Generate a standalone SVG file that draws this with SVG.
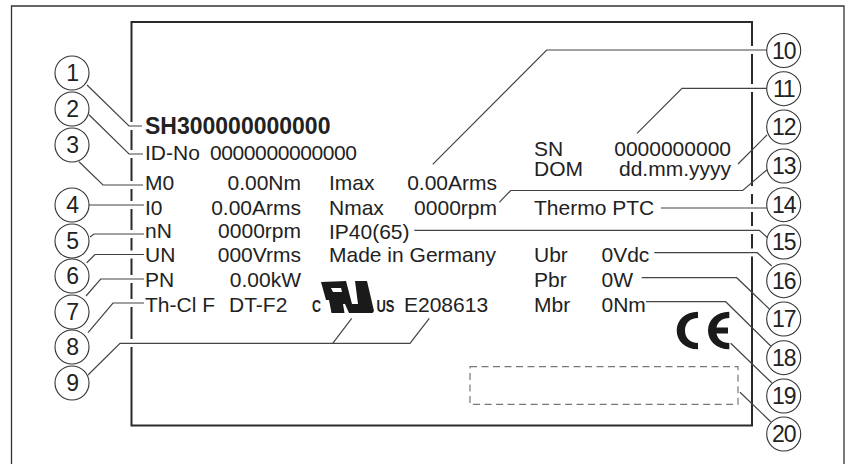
<svg xmlns="http://www.w3.org/2000/svg" width="849" height="464" viewBox="0 0 849 464">
<style>
text{font-family:"Liberation Sans",Arial,sans-serif;fill:#222}
.t{font-size:21px}
.e{text-anchor:end}
.b{font-size:23px;font-weight:bold}
.n{font-size:23px;text-anchor:middle;letter-spacing:-1.2px}
.c{fill:#fff;stroke:#333;stroke-width:1.1}
.l{fill:none;stroke:#444;stroke-width:1.2}
</style>
<rect width="849" height="464" fill="#fff"/>
<path d="M11.5 464V6H844V464" fill="none" stroke="#333" stroke-width="1.3"/>
<rect x="131.5" y="22" width="620.5" height="403.5" fill="none" stroke="#2a2a2a" stroke-width="2"/>
<path d="M131.5 122V130M131.5 150V158M131.5 181V189M131.5 201V209M131.5 230V238M131.5 250.500V258.500M131.500 275V283M131.500 299V307M131.500 339V347M752 46V54M752 84V92M752 186V194M752 204V212M752 226V234M752 248.500V256.500" stroke="#fff" stroke-width="4" fill="none"/>
<rect x="470" y="366.700" width="268" height="37.600" fill="none" stroke="#777" stroke-width="1.2" stroke-dasharray="7 4.500"/>
<g id="connectors">
<path class="l" d="M87 85L129 126H142"/>
<path class="l" d="M89 114.700L129 154H143"/>
<path class="l" d="M79 161.700L103 185H143"/>
<path class="l" d="M89 205H144"/>
<path class="l" d="M90 237L94 234H144"/>
<path class="l" d="M86.700 262.700L95 254.500H144"/>
<path class="l" d="M86 296L100.700 279H144"/>
<path class="l" d="M88 332.700L113 303H144"/>
<path class="l" d="M88 375L120 343.300H410L429.300 318.300M332.700 343.300L351.700 318.300"/>
<path class="l" d="M432.700 164.300L546.700 50H767"/>
<path class="l" d="M637 133.300L682 88.300H767"/>
<path class="l" d="M738 164L767 135"/>
<path class="l" d="M499.300 202.300L510.700 190.500H742.700L766.700 170"/>
<path class="l" d="M661 208H767"/>
<path class="l" d="M414.300 230.300H759.300L769 239"/>
<path class="l" d="M654.300 252.700H757.300L771.700 266"/>
<path class="l" d="M641.700 277.700H736.700L769.300 309"/>
<path class="l" d="M646 301.700H725.700L770.700 346"/>
<path class="l" d="M730.700 343.300L771.700 382.700"/>
<path class="l" d="M740 392.300L770.700 421.700"/>
</g>
<g id="label">
<text class="b" x="145" y="134">SH300000000000</text>
<text class="t" x="145" y="160">ID-No</text>
<text class="t" x="210" y="160" textLength="147">0000000000000</text>
<text class="t" x="145" y="190">M0</text>
<text class="t e" x="301" y="190">0.00Nm</text>
<text class="t" x="145" y="215">I0</text>
<text class="t e" x="301" y="215">0.00Arms</text>
<text class="t" x="145" y="238">nN</text>
<text class="t e" x="301" y="238">0000rpm</text>
<text class="t" x="145" y="262">UN</text>
<text class="t e" x="301" y="262">000Vrms</text>
<text class="t" x="145" y="287">PN</text>
<text class="t e" x="301" y="287">0.00kW</text>
<text class="t" x="145" y="312">Th-Cl F</text>
<text class="t" x="229" y="312">DT-F2</text>
<text class="t" x="329" y="190">Imax</text>
<text class="t e" x="497" y="190">0.00Arms</text>
<text class="t" x="329" y="215">Nmax</text>
<text class="t e" x="497" y="215">0000rpm</text>
<text class="t" x="329" y="239">IP40(65)</text>
<text class="t" x="329" y="262">Made in Germany</text>
<text class="t" x="534" y="156">SN</text>
<text class="t" x="534" y="176">DOM</text>
<text class="t e" x="731" y="156">0000000000</text>
<text class="t e" x="731" y="176">dd.mm.yyyy</text>
<text class="t" x="534" y="215">Thermo PTC</text>
<text class="t" x="534" y="262">Ubr</text>
<text class="t" x="534" y="287">Pbr</text>
<text class="t" x="534" y="312">Mbr</text>
<text class="t" x="601.500" y="262">0Vdc</text>
<text class="t" x="601.500" y="287">0W</text>
<text class="t" x="601.500" y="312">0Nm</text>
<text class="t" x="404" y="312">E208613</text>
<text x="312" y="312" font-size="17" font-weight="bold" textLength="9" lengthAdjust="spacingAndGlyphs">C</text>
<text x="376.500" y="312" font-size="17" font-weight="bold" textLength="18" lengthAdjust="spacingAndGlyphs">US</text>
</g>
<g id="ul-mark"><path fill="#1a1a1a" fill-rule="evenodd" d="M321 282L346 281L352 304L358 304L355 281L367 281L374 311L372.500 313L349 313L345 304L343 304L344.500 313L331.500 313L329 300L326 300ZM331 288L341 288L342 292L333 292Z"/></g>
<g id="ce-mark"><path fill="#1a1a1a" d="M698 311.700C685 311.700 676.700 320 676.700 330.500C676.700 341 685 349.300 698 349.300V343C690 343 685 338 685 330.500C685 323 690 318 698 318Z"/><path fill="#1a1a1a" d="M729.300 311.700C716.300 311.700 708 320 708 330.500C708 341 716.300 349.300 729.300 349.300V343C722 343 717.500 339 716.500 333.500H728V327.500H716.500C717.500 322 722 318 729.300 318Z"/></g>
<g id="n1"><circle class="c" cx="72" cy="73" r="17"/><text class="n" x="72" y="81">1</text></g>
<g id="n2"><circle class="c" cx="72" cy="109" r="17"/><text class="n" x="72" y="117">2</text></g>
<g id="n3"><circle class="c" cx="72" cy="145" r="17"/><text class="n" x="72" y="153">3</text></g>
<g id="n4"><circle class="c" cx="72" cy="205" r="17"/><text class="n" x="72" y="213">4</text></g>
<g id="n5"><circle class="c" cx="72" cy="241" r="17"/><text class="n" x="72" y="249">5</text></g>
<g id="n6"><circle class="c" cx="72" cy="276" r="17"/><text class="n" x="72" y="284">6</text></g>
<g id="n7"><circle class="c" cx="72" cy="312" r="17"/><text class="n" x="72" y="320">7</text></g>
<g id="n8"><circle class="c" cx="72" cy="347" r="17"/><text class="n" x="72" y="355">8</text></g>
<g id="n9"><circle class="c" cx="72" cy="383" r="17"/><text class="n" x="72" y="391">9</text></g>
<g id="n10"><circle class="c" cx="783.700" cy="50.500" r="17"/><text class="n" x="783.700" y="58.500">10</text></g>
<g id="n11"><circle class="c" cx="783.700" cy="88.700" r="17"/><text class="n" x="783.700" y="96.700">11</text></g>
<g id="n12"><circle class="c" cx="783.700" cy="127" r="17"/><text class="n" x="783.700" y="135">12</text></g>
<g id="n13"><circle class="c" cx="783.700" cy="166" r="17"/><text class="n" x="783.700" y="174">13</text></g>
<g id="n14"><circle class="c" cx="783.700" cy="204.700" r="17"/><text class="n" x="783.700" y="212.700">14</text></g>
<g id="n15"><circle class="c" cx="783.700" cy="242" r="17"/><text class="n" x="783.700" y="250">15</text></g>
<g id="n16"><circle class="c" cx="783.700" cy="280.700" r="17"/><text class="n" x="783.700" y="288.700">16</text></g>
<g id="n17"><circle class="c" cx="783.700" cy="319" r="17"/><text class="n" x="783.700" y="327">17</text></g>
<g id="n18"><circle class="c" cx="783.700" cy="357.700" r="17"/><text class="n" x="783.700" y="365.700">18</text></g>
<g id="n19"><circle class="c" cx="783.700" cy="396" r="17"/><text class="n" x="783.700" y="404">19</text></g>
<g id="n20"><circle class="c" cx="783.700" cy="434" r="17"/><text class="n" x="783.700" y="442">20</text></g>
</svg>
